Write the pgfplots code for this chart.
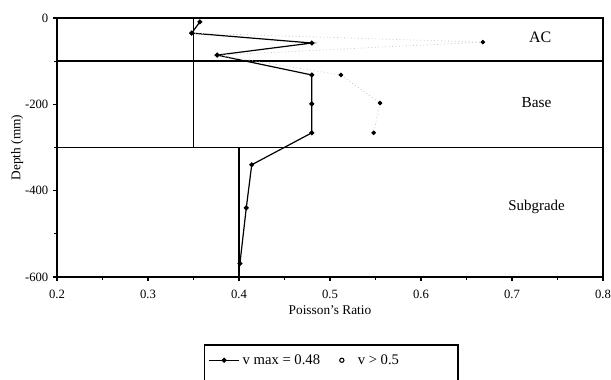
\documentclass[border=0pt]{standalone}
\usepackage{pgfplots}
\pgfplotsset{compat=1.18}
\usepackage{fontspec}
\setmainfont{Liberation Serif}
\usetikzlibrary{calc}
\begin{document}
\begin{tikzpicture}
\begin{axis}[name=ax, scale only axis, width=409.5pt, height=194.25pt,
  xmin=0.2, xmax=0.8, ymin=-600, ymax=0,
  xtick={0.2,0.3,0.4,0.5,0.6,0.7,0.8},
  minor xtick={0.25,0.35,0.45,0.55,0.65,0.75},
  ytick={-600,-400,-200,0},
  minor ytick={-500,-300,-100},
  tick align=outside, tick pos=left,
  major tick length=3pt, minor tick length=2pt,
  tick style={black, line width=0.8pt},
  axis line style={line width=1.1pt},
  xticklabel style={yshift=-3pt, /pgf/number format/.cd, fixed, fixed zerofill, precision=1},
  /pgf/number format/assume math mode=true,
  ticklabel style={font=\fontsize{9.5}{10}\selectfont},
  xlabel={Poisson's Ratio}, ylabel={Depth (mm)},
  label style={font=\fontsize{10}{11}\selectfont},
  xlabel style={at={(axis description cs:0.5,-0.127)}, anchor=center},
  ylabel style={at={(axis description cs:-0.073,0.5)}, anchor=center},
  legend columns=2,
  legend style={at={(0.502,-0.26)}, anchor=north, draw=black, line width=1.1pt,
    font=\fontsize{11}{12}\selectfont, inner xsep=3pt, inner ysep=5pt,
    row sep=12pt,
    /tikz/every even column/.append style={column sep=10pt}},
]
% layer boundaries
\addplot[black, line width=1.1pt, forget plot] coordinates {(0.2,-100) (0.8,-100)};
\addplot[black, line width=1.1pt, forget plot] coordinates {(0.2,-300) (0.8,-300)};
% step line
\addplot[black, line width=1.3pt, forget plot] coordinates {(0.35,0) (0.35,-300) (0.40,-300) (0.40,-600)};
% v max = 0.48
\addplot[black, line width=0.9pt, mark=*, mark size=1.4pt,
  legend image code/.code={\draw[mark repeat=2, mark phase=2] plot coordinates {(0cm,0cm) (0.4cm,0cm) (0.8cm,0cm)};}] coordinates {
 (0.357,-9) (0.348,-35) (0.480,-58) (0.376,-86) (0.480,-132) (0.480,-199)
 (0.480,-266) (0.414,-340) (0.408,-440) (0.401,-569)};
\addlegendentry{v max = 0.48}
% v > 0.5
\addplot[gray!45, dotted, line width=0.6pt, mark=*, mark size=1.4pt,
  mark options={black, solid}, forget plot] coordinates {
 (0.348,-35) (0.668,-56) (0.376,-86) (0.512,-132) (0.555,-197) (0.548,-266)};
\addlegendimage{legend image code/.code={\path[draw=none] (0cm,0cm) -- (0.5cm,0cm); \draw[black, solid, line width=0.8pt] (0.15cm,0cm) circle (1.6pt);}}
\addlegendentry{\makebox[70pt][l]{v > 0.5}}
\addlegendimage{empty legend}\addlegendentry{}
\addlegendimage{empty legend}\addlegendentry{}
\node[font=\fontsize{12}{13}\selectfont] at (axis cs:0.731,-44) {AC};
\node[font=\fontsize{11.5}{13}\selectfont] at (axis cs:0.727,-197) {Base};
\node[font=\fontsize{11.2}{13}\selectfont] at (axis cs:0.727,-437) {Subgrade};
\end{axis}
\pgfresetboundingbox
\path[use as bounding box] ($(ax.south west)+(-42.75pt,-77.25pt)$) rectangle ($(ax.north east)+(6pt,13.5pt)$);
\end{tikzpicture}
\end{document}
